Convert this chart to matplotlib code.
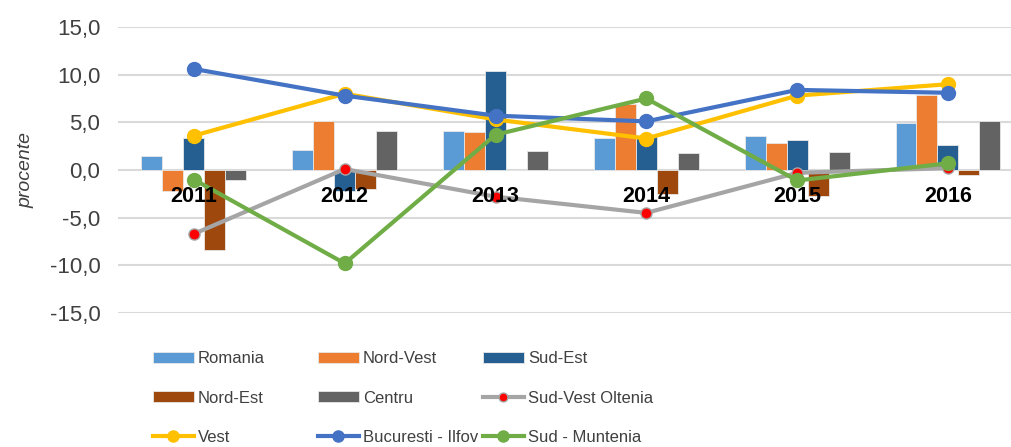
import numpy as np
import matplotlib
matplotlib.use('Agg')
import matplotlib.pyplot as plt

plt.rcParams['font.family'] = ['Liberation Sans', 'DejaVu Sans']

years = ['2011', '2012', '2013', '2014', '2015', '2016']

# bar series (procente)
romania = [1.5, 2.1, 4.1, 3.4, 3.6, 4.9]
nord_vest = [-2.2, 5.1, 4.0, 6.9, 2.8, 7.9]
sud_est = [3.4, -2.2, 10.4, 3.7, 3.1, 2.6]
nord_est = [-8.4, -2.0, 0.0, -2.5, -2.7, -0.5]
centru = [-1.1, 4.1, 2.0, 1.8, 1.9, 5.1]

# line series
sud_vest_oltenia = [-6.7, 0.1, -2.8, -4.5, -0.3, 0.2]
vest = [3.6, 8.0, 5.3, 3.3, 7.8, 9.0]
bucuresti_ilfov = [10.6, 7.8, 5.7, 5.1, 8.4, 8.1]
sud_muntenia = [-1.0, -9.8, 3.7, 7.5, -1.1, 0.7]

fig = plt.figure(figsize=(10.11, 4.47), dpi=100)
ax = fig.add_axes([0.1172, 0.2998, 0.895, 0.6398])

x = np.arange(len(years))
w = 0.139
bar_series = [('Romania', romania, '#5B9BD5'),
              ('Nord-Vest', nord_vest, '#ED7D31'),
              ('Sud-Est', sud_est, '#255E91'),
              ('Nord-Est', nord_est, '#9E480E'),
              ('Centru', centru, '#636363')]
handles = {}
for i, (name, vals, col) in enumerate(bar_series):
    b = ax.bar(x + (i - 2) * w, vals, w, color=col, edgecolor='#e8e8e8',
               linewidth=0.6, label=name, zorder=2)
    handles[name] = b

l, = ax.plot(x, sud_vest_oltenia, color='#A5A5A5', lw=3, marker='o', ms=8,
             mfc='#FF0000', mec='#A5A5A5', mew=1, label='Sud-Vest Oltenia', zorder=3)
handles['Sud-Vest Oltenia'] = l
l, = ax.plot(x, vest, color='#FFC000', lw=3, marker='o', ms=10,
             label='Vest', zorder=3)
handles['Vest'] = l
l, = ax.plot(x, bucuresti_ilfov, color='#4472C4', lw=3, marker='o', ms=10,
             label='Bucuresti - Ilfov', zorder=3)
handles['Bucuresti - Ilfov'] = l
l, = ax.plot(x, sud_muntenia, color='#70AD47', lw=3, marker='o', ms=10,
             label='Sud - Muntenia', zorder=3)
handles['Sud - Muntenia'] = l

ax.set_xlim(-0.5, len(years) - 0.5)
ax.set_ylim(-15, 15)
ax.set_yticks(np.arange(-15, 16, 5))
ax.set_yticklabels([f'{v:.1f}'.replace('.', ',') for v in np.arange(-15, 16, 5)],
                   fontsize=16, color='#404040')
ax.grid(axis='y', color='#d9d9d9', lw=1.5, zorder=0)
ax.set_axisbelow(True)
for s in ax.spines.values():
    s.set_visible(False)
ax.tick_params(axis='y', length=0, pad=13)
ax.tick_params(axis='x', length=0)
ax.set_xticks([])

for xi, yr in zip(x, years):
    ax.text(xi, -2.8, yr, ha='center', va='center', fontsize=15.5,
            fontweight='bold', color='black', zorder=5)

ax.set_ylabel('procente', fontsize=14, style='italic', color='#404040')
ax.yaxis.set_label_coords(-0.093, 0.5)

# legend: three columns placed like the original
columns = [['Romania', 'Nord-Est', 'Vest'],
           ['Nord-Vest', 'Centru', 'Bucuresti - Ilfov'],
           ['Sud-Est', 'Sud-Vest Oltenia', 'Sud - Muntenia']]
col_x = [0.1513, 0.3145, 0.4777]
for cx, names in zip(col_x, columns):
    leg = fig.legend([handles[n] for n in names], names, ncol=1,
                     loc='center left', bbox_to_anchor=(cx, 0.1096),
                     frameon=False, fontsize=12, handlelength=2.45,
                     handleheight=0.6, handletextpad=0.25, markerscale=0.8,
                     labelspacing=1.45, borderaxespad=0, borderpad=0)
    for t in leg.get_texts():
        t.set_color('#404040')

fig.savefig('out.png', dpi=100)
